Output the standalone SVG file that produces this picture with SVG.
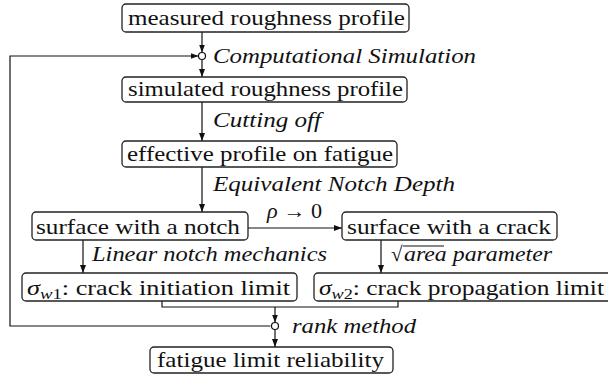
<svg xmlns="http://www.w3.org/2000/svg" width="608" height="377" viewBox="0 0 608 377">
<style>
.box{fill:#fff;stroke:#222;stroke-width:1.3}
text{font-family:'Liberation Serif','Times New Roman','DejaVu Serif',serif;fill:#111}
.t{font-size:21px}
.i{font-size:20px;font-style:italic}
.c{fill:none;stroke:#111;stroke-width:1.2}
.j{fill:#fff;stroke:#111;stroke-width:1.2}
</style>
<defs>
<marker id="ah" viewBox="0 0 8 6" refX="8" refY="3" markerWidth="8" markerHeight="6" markerUnits="userSpaceOnUse" orient="auto">
<path d="M0,0 L8,3 L0,6 Z" fill="#111"/>
</marker>
</defs>
<g id="connectors">
<line class="c" x1="202" y1="32" x2="202" y2="52.5" marker-end="url(#ah)"/>
<line class="c" x1="202" y1="59.5" x2="202" y2="77" marker-end="url(#ah)"/>
<polyline class="c" points="270.5,326 10,326 10,56 198.5,56" marker-end="url(#ah)"/>
<line class="c" x1="202" y1="102" x2="202" y2="141" marker-end="url(#ah)"/>
<line class="c" x1="202" y1="167" x2="202" y2="212" marker-end="url(#ah)"/>
<line class="c" x1="248" y1="228" x2="342" y2="228" marker-end="url(#ah)"/>
<line class="c" x1="83" y1="240" x2="83" y2="273" marker-end="url(#ah)"/>
<line class="c" x1="381" y1="240" x2="381" y2="273" marker-end="url(#ah)"/>
<polyline class="c" points="162,301 162,307 398,307 398,301"/>
<line class="c" x1="275" y1="307" x2="275" y2="322.5" marker-end="url(#ah)"/>
<line class="c" x1="275" y1="329.5" x2="275" y2="347" marker-end="url(#ah)"/>
<circle id="junction1" class="j" cx="202" cy="56" r="3.5"/>
<circle id="junction2" class="j" cx="275" cy="326" r="3.5"/>
<text class="i" x="213" y="63" textLength="263" lengthAdjust="spacingAndGlyphs">Computational Simulation</text>
<text class="i" x="213" y="127" textLength="108" lengthAdjust="spacingAndGlyphs">Cutting off</text>
<text class="i" x="213" y="191" textLength="242" lengthAdjust="spacingAndGlyphs">Equivalent Notch Depth</text>
<text class="i" x="267" y="218" textLength="55" lengthAdjust="spacingAndGlyphs">ρ <tspan font-style="normal">→ 0</tspan></text>
<text class="i" x="92" y="261" textLength="235" lengthAdjust="spacingAndGlyphs">Linear notch mechanics</text>
<text class="t" x="391" y="261" font-size="20">√</text>
<line x1="403" y1="246" x2="444" y2="246" stroke="#111" stroke-width="1"/>
<text class="i" x="404" y="261" textLength="148" lengthAdjust="spacingAndGlyphs">area parameter</text>
<text class="i" x="292" y="333" textLength="124" lengthAdjust="spacingAndGlyphs">rank method</text>
</g>
<g id="n1">
<rect class="box" x="122" y="4" width="287" height="28" rx="4"/>
<text class="t" x="128" y="25" textLength="277" lengthAdjust="spacingAndGlyphs">measured roughness profile</text>
</g>
<g id="n2">
<rect class="box" x="122" y="77" width="285" height="25" rx="4"/>
<text class="t" x="128" y="96" textLength="275" lengthAdjust="spacingAndGlyphs">simulated roughness profile</text>
</g>
<g id="n3">
<rect class="box" x="122" y="141" width="275" height="26" rx="4"/>
<text class="t" x="127" y="161" textLength="266" lengthAdjust="spacingAndGlyphs">effective profile on fatigue</text>
</g>
<g id="n4">
<rect class="box" x="32" y="212" width="216" height="28" rx="4"/>
<text class="t" x="36" y="234" textLength="204" lengthAdjust="spacingAndGlyphs">surface with a notch</text>
</g>
<g id="n5">
<rect class="box" x="342" y="212" width="215" height="28" rx="4"/>
<text class="t" x="347" y="234" textLength="204" lengthAdjust="spacingAndGlyphs">surface with a crack</text>
</g>
<g id="n6">
<rect class="box" x="22" y="273" width="275" height="28" rx="4"/>
<text class="t" x="27" y="295" textLength="263" lengthAdjust="spacingAndGlyphs"><tspan font-style="italic">σ</tspan><tspan font-size="15" dy="4"><tspan font-style="italic">w</tspan>1</tspan><tspan dy="-4">: crack initiation limit</tspan></text>
</g>
<g id="n7">
<rect class="box" x="314" y="273" width="298" height="28" rx="4"/>
<text class="t" x="319" y="295" textLength="285" lengthAdjust="spacingAndGlyphs"><tspan font-style="italic">σ</tspan><tspan font-size="15" dy="4"><tspan font-style="italic">w</tspan>2</tspan><tspan dy="-4">: crack propagation limit</tspan></text>
</g>
<g id="n8">
<rect class="box" x="150" y="347" width="243" height="26" rx="4"/>
<text class="t" x="157" y="367" textLength="227" lengthAdjust="spacingAndGlyphs">fatigue limit reliability</text>
</g>
</svg>
